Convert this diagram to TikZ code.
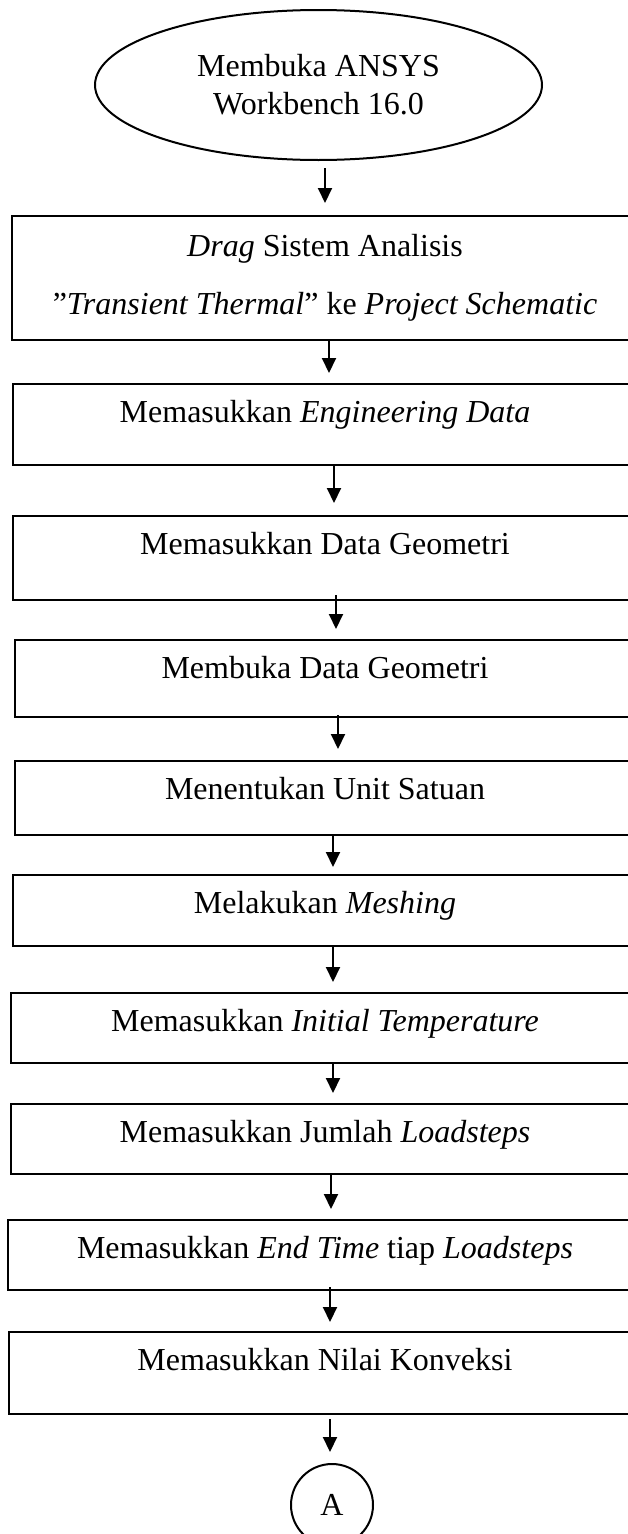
\documentclass[tikz,border=0pt]{standalone}
\usepackage{fontspec}
\setmainfont{Liberation Serif}
\usetikzlibrary{shapes.geometric,arrows.meta}

\begin{document}
\begin{tikzpicture}[x=1pt,y=-1pt,
    every node/.style={font=\fontsize{32pt}{38pt}\selectfont},
    stepbox/.style={draw,line width=2pt,anchor=north,inner sep=0pt,text height=38pt,text depth=#1},
    flow/.style={line width=2pt,-{Triangle[length=15pt,width=14pt]}}]
    \useasboundingbox (0,0) rectangle (628,1534);
    \node[draw,line width=2pt,ellipse,minimum width=447pt,minimum height=150pt,inner sep=0pt,align=center] (start) at (318.5,85) {Membuka ANSYS\\Workbench 16.0};
    \node[draw,line width=2pt,anchor=north,minimum width=626pt,minimum height=124pt,inner sep=0pt,align=center] (b1) at (325,215) {\textit{Drag} Sistem Analisis\\[20pt]”\textit{Transient Thermal}” ke \textit{Project Schematic}};
    \node[stepbox=43pt,minimum width=624pt] (b2) at (325,383) {Memasukkan \textit{Engineering Data}};
    \node[stepbox=46pt,minimum width=624pt] (b3) at (325,515) {Memasukkan Data Geometri};
    \node[stepbox=39pt,minimum width=620pt] (b4) at (325,639) {Membuka Data Geometri};
    \node[stepbox=36pt,minimum width=620pt] (b5) at (325,760) {Menentukan Unit Satuan};
    \node[stepbox=33pt,minimum width=624pt] (b6) at (325,874) {Melakukan \textit{Meshing}};
    \node[stepbox=32pt,minimum width=628pt] (b7) at (325,992) {Memasukkan \textit{Initial Temperature}};
    \node[stepbox=32pt,minimum width=628pt] (b8) at (325,1103) {Memasukkan Jumlah \textit{Loadsteps}};
    \node[stepbox=32pt,minimum width=634pt] (b9) at (325,1219) {Memasukkan \textit{End Time} tiap \textit{Loadsteps}};
    \node[stepbox=44pt,minimum width=632pt] (b10) at (325,1331) {Memasukkan Nilai Konveksi};
    \node[draw,line width=2pt,circle,minimum size=82pt,inner sep=0pt] (conn) at (332,1505) {A};
    \draw[flow] ([yshift=-7pt]start.south -| b1.north) -- ([yshift=12pt]b1.north);
    \draw[flow] ([xshift=4pt]b1.south) -- ([xshift=4pt,yshift=10pt]b2.north);
    \draw[flow] ([xshift=9pt]b2.south) -- ([xshift=9pt,yshift=12pt]b3.north);
    \draw[flow] ([xshift=11pt,yshift=6pt]b3.south) -- ([xshift=11pt,yshift=10pt]b4.north);
    \draw[flow] ([xshift=13pt,yshift=3pt]b4.south) -- ([xshift=13pt,yshift=11pt]b5.north);
    \draw[flow] ([xshift=8pt]b5.south) -- ([xshift=8pt,yshift=7pt]b6.north);
    \draw[flow] ([xshift=8pt]b6.south) -- ([xshift=8pt,yshift=10pt]b7.north);
    \draw[flow] ([xshift=8pt]b7.south) -- ([xshift=8pt,yshift=10pt]b8.north);
    \draw[flow] ([xshift=6pt]b8.south) -- ([xshift=6pt,yshift=10pt]b9.north);
    \draw[flow] ([xshift=5pt,yshift=4pt]b9.south) -- ([xshift=5pt,yshift=9pt]b10.north);
    \draw[flow] ([xshift=5pt,yshift=-4pt]b10.south) -- ([xshift=-2pt,yshift=11pt]conn.north);
\end{tikzpicture}
\end{document}
